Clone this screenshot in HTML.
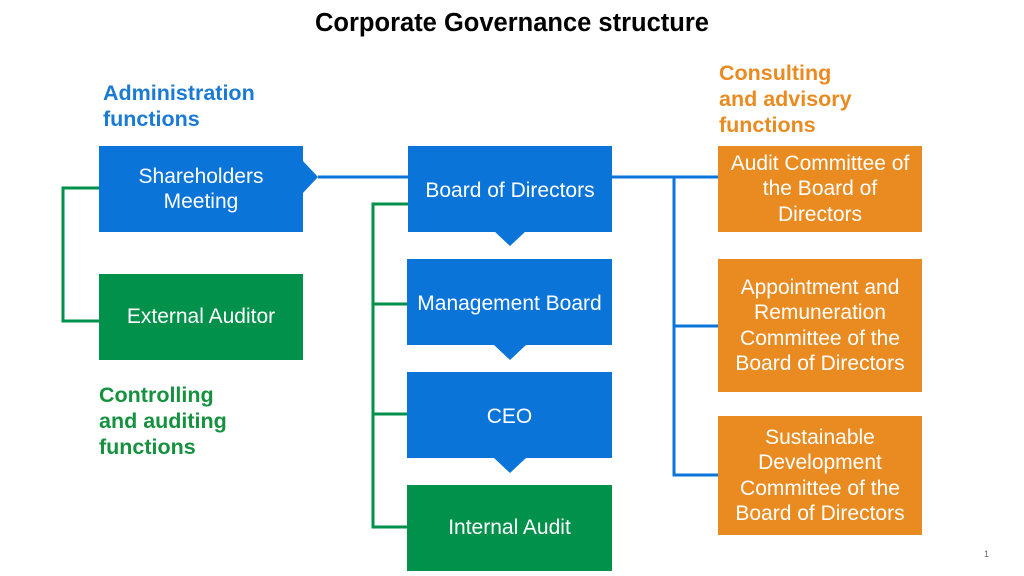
<!DOCTYPE html>
<html><head><style>
body{margin:0;width:1024px;height:576px;background:#fff;position:relative;overflow:hidden;font-family:"Liberation Sans",Arial,sans-serif}
.b{position:absolute;color:#fff;font-size:21px;line-height:25.5px;display:flex;align-items:center;justify-content:center;text-align:center;box-sizing:border-box;white-space:nowrap}
.bl{background:#0b74d9}.gr{background:#02914b}.or{background:#ea8b21}
.h{position:absolute;font-weight:bold;font-size:21.5px;line-height:26px}
svg{position:absolute;left:0;top:0}
</style></head><body>
<div class="h" style="left:0;width:1024px;text-align:center;top:8px;font-size:25.5px;line-height:30px;color:#000">Corporate Governance structure</div>
<div class="h" style="left:103px;top:80px;color:#1a7ad4">Administration<br>functions</div>
<div class="h" style="left:719px;top:60px;color:#e98b21">Consulting<br>and advisory<br>functions</div>
<div class="h" style="left:99px;top:382px;color:#16913f">Controlling<br>and auditing<br>functions</div>
<svg width="1024" height="576">
<g fill="none" stroke-width="3">
<path d="M318 177H408M611 177H718M674 177V475H718M674 326H718" stroke="#0b74d9"/>
<path d="M99 188H63V321H99M408 204H373V527H408M373 304H408M373 414H408" stroke="#02914b"/>
</g>
<polygon points="302,160 318,177 302,194" fill="#0b74d9"/>
<polygon points="494,231 526,231 510,246" fill="#0b74d9"/>
<polygon points="494,345 526,345 510,360" fill="#0b74d9"/>
<polygon points="494,458 526,458 510,473" fill="#0b74d9"/>
</svg>
<div class="b bl" style="left:99px;top:146px;width:204px;height:86px">Shareholders<br>Meeting</div>
<div class="b gr" style="left:99px;top:274px;width:204px;height:86px">External Auditor</div>
<div class="b bl" style="left:408px;top:146px;width:204px;height:86px;padding-top:4px">Board of Directors</div>
<div class="b bl" style="left:407px;top:259px;width:205px;height:86px;padding-top:4px">Management Board</div>
<div class="b bl" style="left:407px;top:372px;width:205px;height:86px;padding-top:4px">CEO</div>
<div class="b gr" style="left:407px;top:485px;width:205px;height:86px">Internal Audit</div>
<div class="b or" style="left:718px;top:146px;width:204px;height:86px">Audit Committee of<br>the Board of<br>Directors</div>
<div class="b or" style="left:718px;top:259px;width:204px;height:133px">Appointment and<br>Remuneration<br>Committee of the<br>Board of Directors</div>
<div class="b or" style="left:718px;top:416px;width:204px;height:119px">Sustainable<br>Development<br>Committee of the<br>Board of Directors</div>
<div style="position:absolute;left:984px;top:549px;font-size:9px;color:#666">1</div>
</body></html>
